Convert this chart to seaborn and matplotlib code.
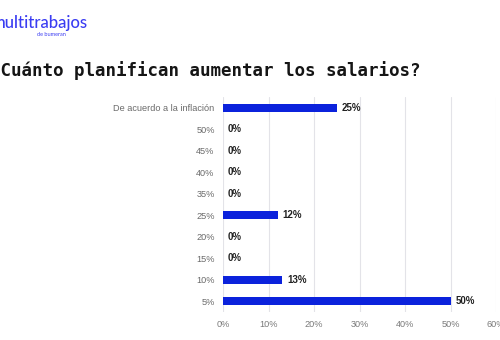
import matplotlib
matplotlib.use("Agg")
import matplotlib.pyplot as plt
import seaborn as sns
import pandas as pd

# Survey answers: planned salary increase
categories = ["De acuerdo a la inflación", "50%", "45%", "40%", "35%",
              "25%", "20%", "15%", "10%", "5%"]
shares = [25, 0, 0, 0, 0, 12, 0, 0, 13, 50]
x_ticks = [0, 10, 20, 30, 40, 50, 60]

df = pd.DataFrame({"respuesta": categories, "porcentaje": shares})

sns.set_theme(style="white")
plt.rcParams["font.family"] = ["Liberation Sans", "DejaVu Sans"]

fig = plt.figure(figsize=(5, 3.4), dpi=100)
ax = fig.add_axes([0.446, 0.082, 0.546, 0.633])

bar_color = "#0b22dc"
sns.barplot(data=df, x="porcentaje", y="respuesta", order=categories,
            orient="h", color=bar_color, width=0.37, saturation=1,
            linewidth=0, ax=ax, zorder=3)

ax.set_xlim(0, 60)
ax.set_ylim(9.5, -0.5)
ax.set_xticks(x_ticks)
ax.set_xticklabels([f"{t}%" for t in x_ticks], color="#7a7a7a", fontsize=6.6)
ax.tick_params(axis="y", labelsize=6.6, labelcolor="#6a6a6a", length=0, pad=6)
ax.tick_params(axis="x", length=0, pad=6)
ax.set_xlabel("")
ax.set_ylabel("")
ax.grid(axis="x", color="#e3e3e8", linewidth=0.8, zorder=0)
for s in ax.spines.values():
    s.set_visible(False)

for i, v in enumerate(shares):
    ax.annotate(f"{v}%", xy=(v, i), xytext=(3.5, 0), textcoords="offset points",
                ha="left", va="center", fontsize=7, fontweight="bold",
                color="#222222")

# Header: brand and question
fig.text(-0.016, 0.917, "multitrabajos", fontsize=12, color="#3a3cf2",
         family=["Lato", "DejaVu Sans"], fontweight="medium", ha="left", va="baseline")
fig.text(0.074, 0.893, "de bumeran", fontsize=4, color="#3a3cf2",
         family=["Lato", "DejaVu Sans"], ha="left", va="baseline")
fig.text(-0.02, 0.777, "¿Cuánto planifican aumentar los salarios?", fontsize=12.6,
         family=["DejaVu Sans Mono", "DejaVu Sans"], fontweight="bold",
         color="#151515", ha="left", va="baseline")

fig.savefig("out.png", dpi=100, facecolor="white")
